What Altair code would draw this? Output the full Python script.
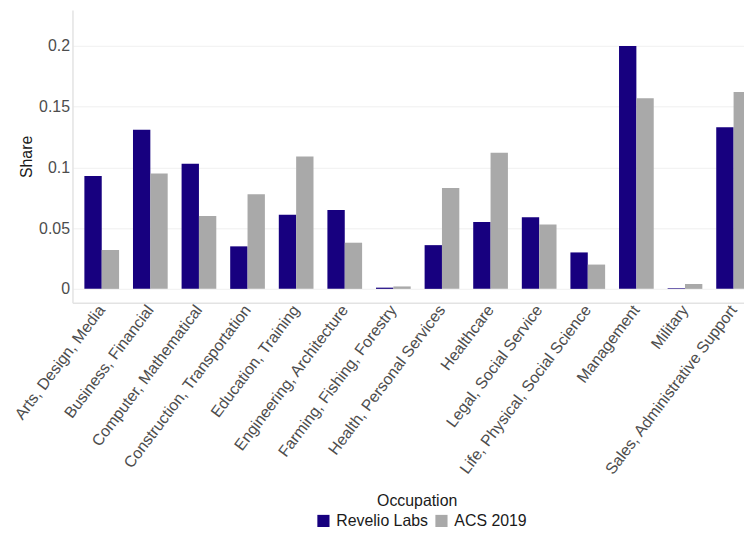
import altair as alt
import pandas as pd

occupations = [
    "Arts, Design, Media",
    "Business, Financial",
    "Computer, Mathematical",
    "Construction, Transportation",
    "Education, Training",
    "Engineering, Architecture",
    "Farming, Fishing, Forestry",
    "Health, Personal Services",
    "Healthcare",
    "Legal, Social Service",
    "Life, Physical, Social Science",
    "Management",
    "Military",
    "Sales, Administrative Support",
]
revelio = [0.093, 0.131, 0.103, 0.035, 0.061, 0.065, 0.001, 0.036, 0.055, 0.059, 0.030, 0.200, 0.0005, 0.133]
acs = [0.032, 0.095, 0.060, 0.078, 0.109, 0.038, 0.002, 0.083, 0.112, 0.053, 0.020, 0.157, 0.004, 0.162]
sources = ["Revelio Labs", "ACS 2019"]
colors = ["#17007f", "#a9a9a9"]
y_ticks = [0, 0.05, 0.1, 0.15, 0.2]

rows = []
for i, occ in enumerate(occupations):
    rows.append({"Occupation": occ, "Source": sources[0], "Share": revelio[i]})
    rows.append({"Occupation": occ, "Source": sources[1], "Share": acs[i]})
df = pd.DataFrame(rows)

FONT = "Liberation Sans, Arial, sans-serif"

chart = (
    alt.Chart(df)
    .mark_bar()
    .encode(
        x=alt.X(
            "Occupation:N",
            sort=occupations,
            scale=alt.Scale(paddingInner=0.286, paddingOuter=0.245, range=[0, 696]),
            axis=alt.Axis(
                title="Occupation",
                labelAngle=-53,
                labelAlign="right",
                labelBaseline="middle",
                labelPadding=4,
                labelFontSize=16,
                labelColor="#4d4d4d",
                labelFont=FONT,
                ticks=False,
                domainColor="#e3e3e3",
                domainWidth=1.5,
                grid=False,
                titleFont=FONT,
                titleFontSize=16,
                titleFontWeight="normal",
                titleColor="#1a1a1a",
                titleBaseline="alphabetic",
                titleAlign="center",
                titleX=347,
                titleY=204,
                labelLimit=400,
            ),
        ),
        xOffset=alt.XOffset("Source:N", sort=sources),
        y=alt.Y(
            "Share:Q",
            scale=alt.Scale(domain=[-0.0114, 0.2295], nice=False, zero=False),
            axis=alt.Axis(
                title="Share",
                values=y_ticks,
                format="~g",
                ticks=False,
                labelPadding=3,
                labelFontSize=16,
                labelColor="#4d4d4d",
                labelFont=FONT,
                domainColor="#e3e3e3",
                domainWidth=1.5,
                gridColor="#f0f0f0",
                gridWidth=1,
                titleFont=FONT,
                titleFontSize=16,
                titleFontWeight="normal",
                titleColor="#1a1a1a",
                titlePadding=4,
            ),
        ),
        color=alt.Color(
            "Source:N",
            sort=sources,
            scale=alt.Scale(domain=sources, range=colors),
            legend=alt.Legend(
                title=None,
                orient="none",
                direction="horizontal",
                legendX=245,
                legendY=507,
                symbolType="square",
                symbolSize=150,
                symbolStrokeWidth=0,
                labelFontSize=16,
                labelFont=FONT,
                labelColor="#1a1a1a",
                labelOffset=5,
                columnPadding=5,
                padding=0,
            ),
        ),
    )
    .properties(
        width=677,
        height=295,
        background="white",
        padding={"left": 65, "top": 0, "right": 0, "bottom": 225},
        autosize=alt.AutoSizeParams(type="none"),
    )
    .configure_view(strokeWidth=0)
)

chart.save("out.html", embed_options={"renderer": "svg", "actions": False})
